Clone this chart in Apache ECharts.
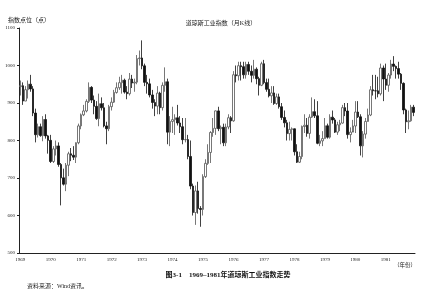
<!DOCTYPE html>
<html><head><meta charset="utf-8">
<script src="https://cdn.jsdelivr.net/npm/echarts@6/dist/echarts.min.js"></script>
<style>html,body{margin:0;padding:0;background:#fff}#c{width:422px;height:289px}</style>
</head><body><div id="c"></div>
<script>
const years = [1969,1970,1971,1972,1973,1974,1975,1976,1977,1978,1979,1980,1981];
const tickValues = [500,600,700,800,900,1000,1100];
// monthly open / close / low / high, Jan 1969 - Dec 1981
const opens = [
943.75,946.05,905.21,935.48,950.18,937.56,873.19,815.47,836.72,813.09,855.99,812.30,
800.36,744.06,777.59,785.57,736.07,700.44,683.53,734.12,764.58,760.68,755.61,794.09,
838.92,868.50,878.83,904.37,941.75,907.81,891.14,858.43,898.07,887.19,839.00,831.34,
890.20,902.17,928.13,940.70,954.17,960.72,929.03,924.74,963.73,953.27,955.52,1018.21,
1020.02,999.02,955.07,951.01,921.43,901.41,891.71,926.40,887.57,947.10,956.58,822.25,
850.86,855.55,860.53,846.68,836.75,802.17,802.41,757.43,678.58,607.87,665.52,618.66,
616.24,703.69,739.05,768.15,821.34,832.29,878.99,831.51,835.34,793.88,836.04,860.67,
852.41,975.28,972.61,999.45,996.85,975.23,1002.78,984.64,973.74,990.19,964.93,947.22,
1004.65,954.37,936.42,919.13,926.90,898.66,916.30,890.07,861.49,847.11,818.35,829.70,
831.17,769.92,742.12,757.36,837.32,840.61,818.95,862.27,876.82,865.82,792.45,799.03,
805.01,839.22,808.82,862.18,854.90,822.33,841.98,846.42,887.63,878.58,815.70,822.35,
838.74,875.85,863.14,785.75,817.06,850.85,867.92,935.32,932.59,932.42,924.49,993.34,
963.99,947.27,974.58,1003.87,997.75,991.75,976.88,952.34,881.47,849.98,852.55,888.98];
const closes = [
946.05,905.21,935.48,950.18,937.56,873.19,815.47,836.72,813.09,855.99,812.30,800.36,
744.06,777.59,785.57,736.07,700.44,683.53,734.12,764.58,760.68,755.61,794.09,838.92,
868.50,878.83,904.37,941.75,907.81,891.14,858.43,898.07,887.19,839.00,831.34,890.20,
902.17,928.13,940.70,954.17,960.72,929.03,924.74,963.73,953.27,955.52,1018.21,1020.02,
999.02,955.07,951.01,921.43,901.41,891.71,926.40,887.57,947.10,956.58,822.25,850.86,
855.55,860.53,846.68,836.75,802.17,802.41,757.43,678.58,607.87,665.52,618.66,616.24,
703.69,739.05,768.15,821.34,832.29,878.99,831.51,835.34,793.88,836.04,860.67,852.41,
975.28,972.61,999.45,996.85,975.23,1002.78,984.64,973.74,990.19,964.93,947.22,1004.65,
954.37,936.42,919.13,926.90,898.66,916.30,890.07,861.49,847.11,818.35,829.70,831.17,
769.92,742.12,757.36,837.32,840.61,818.95,862.27,876.82,865.82,792.45,799.03,805.01,
839.22,808.82,862.18,854.90,822.33,841.98,846.42,887.63,878.58,815.70,822.35,838.74,
875.85,863.14,785.75,817.06,850.85,867.92,935.32,932.59,932.42,924.49,993.34,963.99,
947.27,974.58,1003.87,997.75,991.75,976.88,952.34,881.47,849.98,852.55,888.98,875.00];
const lows = [
920,895,905,912,930,865,795,808,810,798,805,765,
740,740,760,730,627,680,665,705,745,748,740,790,
830,865,875,900,900,870,855,838,880,835,790,825,
880,900,925,935,925,925,910,920,940,930,950,1000,
990,945,925,915,885,865,870,870,880,930,790,785,
820,815,840,820,790,795,750,670,600,575,605,570,
600,700,735,740,810,815,825,790,785,785,830,820,
850,955,960,960,965,965,975,955,965,950,920,945,
950,930,915,900,895,895,885,855,835,800,800,800,
760,740,740,750,820,810,805,860,860,790,785,785,
805,805,805,845,820,815,825,845,865,805,795,825,
820,860,760,755,805,850,865,920,910,915,920,905,
935,930,965,985,965,965,935,870,820,830,850,865];
const highs = [
960,955,945,960,975,945,885,845,845,865,870,815,
815,785,800,795,740,725,740,770,780,785,795,845,
872,895,910,955,945,920,905,925,915,900,850,895,
915,935,955,970,975,965,945,980,975,965,1028,1040,
1067,1005,975,965,935,910,945,930,955,995,965,865,
890,870,895,865,860,860,815,800,685,680,690,625,
710,750,790,825,860,880,890,840,845,845,870,865,
985,1000,1010,1010,1010,1010,1010,1000,1015,995,970,1010,
1015,965,965,945,945,925,925,900,880,855,850,835,
830,790,770,840,870,860,870,915,910,905,815,825,
860,845,870,880,860,850,855,895,900,900,835,855,
905,905,870,825,860,885,945,975,975,970,1005,1000,
1005,980,1015,1025,1000,1010,980,955,885,880,895,895];

const categories = [];
const kdata = [];
for (let i = 0; i < closes.length; i++) {
  const y = years[0] + Math.floor(i / 12);
  categories.push(y + '-' + String(i % 12 + 1).padStart(2, '0'));
  kdata.push([opens[i], closes[i], lows[i], highs[i]]);
}
const serif = "'Liberation Serif','DejaVu Serif','Noto Sans CJK SC',serif";
const isJan = (idx) => idx % 12 === 0;

const chart = echarts.init(document.getElementById('c'), null, {renderer: 'canvas'});
chart.setOption({
  animation: false,
  backgroundColor: '#fff',
  title: [
    {text: '道琼斯工业指数（月K线）', left: 216, top: 15, textAlign: 'center',
     textStyle: {fontSize: 6, fontWeight: 'normal', color: '#222', fontFamily: serif}},
    {text: '指数点位（点）', left: 3, top: 12,
     textStyle: {fontSize: 6, fontWeight: 'normal', color: '#222', fontFamily: serif}},
    {text: '（年份）', left: 389, top: 258,
     textStyle: {fontSize: 5.5, fontWeight: 'normal', color: '#222', fontFamily: serif}},
    {text: '图3-1　1969–1981年道琼斯工业指数走势', left: 223, top: 267, textAlign: 'center',
     textStyle: {fontSize: 7, fontWeight: 'bold', color: '#111', fontFamily: serif}},
    {text: '资料来源：Wind资讯。', left: 22, top: 278,
     textStyle: {fontSize: 6, fontWeight: 'normal', color: '#222', fontFamily: serif}}
  ],
  grid: {left: 19, right: 7, top: 28, bottom: 36},
  xAxis: {
    type: 'category',
    data: categories,
    boundaryGap: true,
    axisLine: {lineStyle: {color: '#222', width: 1}},
    axisTick: {alignWithLabel: true, interval: isJan, length: 2, lineStyle: {color: '#222'}},
    axisLabel: {interval: isJan, formatter: (v) => v.slice(0, 4), fontSize: 5, color: '#222',
                fontFamily: serif, margin: 4},
    splitLine: {show: false}
  },
  yAxis: {
    type: 'value', min: tickValues[0], max: tickValues[tickValues.length - 1], interval: 100,
    axisLine: {show: true, lineStyle: {color: '#222', width: 1}},
    axisTick: {show: true, length: 2, lineStyle: {color: '#222'}},
    axisLabel: {fontSize: 5, color: '#222', fontFamily: serif, margin: 4,
                formatter: (v) => String(v)},
    splitLine: {show: false}
  },
  series: [{
    type: 'candlestick',
    data: kdata,
    barWidth: 2,
    itemStyle: {
      color: '#ffffff', color0: '#111111',
      borderColor: '#555555', borderColor0: '#111111', borderWidth: 0.8
    }
  }]
});
</script></body></html>
